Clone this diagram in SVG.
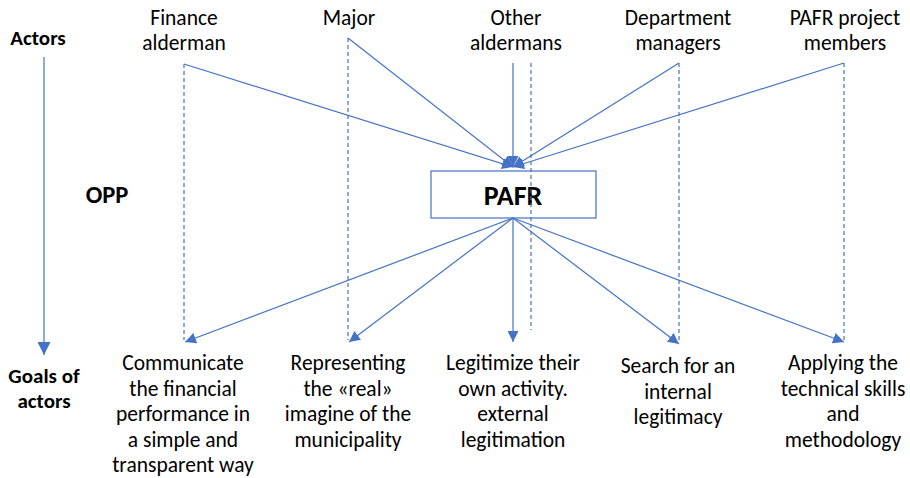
<svg xmlns="http://www.w3.org/2000/svg" width="910" height="478" viewBox="0 0 910 478">
  <defs>
    <marker id="arrow" viewBox="0 0 10 10" refX="10" refY="5" markerWidth="11" markerHeight="11" markerUnits="userSpaceOnUse" orient="auto">
      <path d="M0,0 L10,5 L0,10 z" fill="#4472C4"/>
    </marker>
    <marker id="arrowBig" viewBox="0 0 10 10" refX="10" refY="5" markerWidth="13" markerHeight="13" markerUnits="userSpaceOnUse" orient="auto">
      <path d="M0,0 L10,5 L0,10 z" fill="#4472C4"/>
    </marker>
  </defs>
  <style>
    text { font-family: Carlito, Lato, "Liberation Sans", sans-serif; font-size: 21.5px; fill: #000; text-anchor: middle; }
    .bold { font-weight: bold; font-size: 21px; }
    .line { stroke: #4472C4; stroke-width: 1.2; fill: none; }
    .dash { stroke: #4472C4; stroke-width: 1.2; stroke-dasharray: 4 3; fill: none; }
  </style>
  <rect width="910" height="478" fill="#fff"/>

  <!-- axis labels -->
  <g id="axis">
    <text class="bold" x="38" y="45">Actors</text>
    <line class="line" x1="44" y1="57" x2="44" y2="355" marker-end="url(#arrowBig)"/>
    <text class="bold" x="107" y="203" style="font-size:24.5px">OPP</text>
    <text class="bold" x="44" y="383">Goals of</text>
    <text class="bold" x="44" y="408">actors</text>
  </g>

  <!-- actors -->
  <g id="actor-finance"><text x="184" y="25">Finance</text><text x="184" y="50">alderman</text></g>
  <g id="actor-major"><text x="349" y="25">Major</text></g>
  <g id="actor-other"><text x="516" y="25">Other</text><text x="516" y="50">aldermans</text></g>
  <g id="actor-dept"><text x="678" y="25">Department</text><text x="678" y="50">managers</text></g>
  <g id="actor-project"><text x="845" y="25">PAFR project</text><text x="845" y="50">members</text></g>

  <!-- obligatory passage point -->
  <g id="pafr">
    <rect x="431" y="171" width="165" height="47" fill="#fff" stroke="#4472C4" stroke-width="1.2"/>
    <text class="bold" x="513" y="205" style="font-size:28px">PAFR</text>
  </g>

  <!-- goals -->
  <g id="goal-finance">
    <text x="183" y="370">Communicate</text><text x="183" y="395.5">the financial</text><text x="183" y="421">performance in</text><text x="183" y="446.5">a simple and</text><text x="183" y="472">transparent way</text>
  </g>
  <g id="goal-major">
    <text x="348" y="370">Representing</text><text x="348" y="395.5">the «real»</text><text x="348" y="421">imagine of the</text><text x="348" y="446.5">municipality</text>
  </g>
  <g id="goal-other">
    <text x="513" y="370">Legitimize their</text><text x="513" y="395.5">own activity.</text><text x="513" y="421">external</text><text x="513" y="446.5">legitimation</text>
  </g>
  <g id="goal-dept">
    <text x="678" y="373">Search for an</text><text x="678" y="398.5">internal</text><text x="678" y="424">legitimacy</text>
  </g>
  <g id="goal-project">
    <text x="843" y="370">Applying the</text><text x="843" y="395.5">technical skills</text><text x="843" y="421">and</text><text x="843" y="446.5">methodology</text>
  </g>

  <!-- connectors -->
  <g id="connectors">
    <!-- dashed links from each actor to its goal -->
    <line class="dash" x1="184" y1="64" x2="184" y2="340"/>
    <line class="dash" x1="348" y1="38" x2="348" y2="340"/>
    <line class="dash" x1="531" y1="63" x2="531" y2="330"/>
    <line class="dash" x1="679" y1="63" x2="679" y2="340"/>
    <line class="dash" x1="844" y1="63" x2="844" y2="340"/>
    <!-- actors into PAFR -->
    <line class="line" x1="184" y1="64" x2="513" y2="167" marker-end="url(#arrow)"/>
    <line class="line" x1="348" y1="38" x2="513" y2="167" marker-end="url(#arrow)"/>
    <line class="line" x1="513" y1="63" x2="513" y2="167" marker-end="url(#arrow)"/>
    <line class="line" x1="679" y1="63" x2="513" y2="167" marker-end="url(#arrow)"/>
    <line class="line" x1="844" y1="63" x2="513" y2="167" marker-end="url(#arrow)"/>
    <!-- PAFR out to goals -->
    <line class="line" x1="513" y1="218" x2="185" y2="342" marker-end="url(#arrow)"/>
    <line class="line" x1="513" y1="218" x2="349" y2="342" marker-end="url(#arrow)"/>
    <line class="line" x1="513" y1="218" x2="513" y2="342" marker-end="url(#arrow)"/>
    <line class="line" x1="513" y1="218" x2="679" y2="344" marker-end="url(#arrow)"/>
    <line class="line" x1="513" y1="218" x2="844" y2="342" marker-end="url(#arrow)"/>
  </g>
</svg>
